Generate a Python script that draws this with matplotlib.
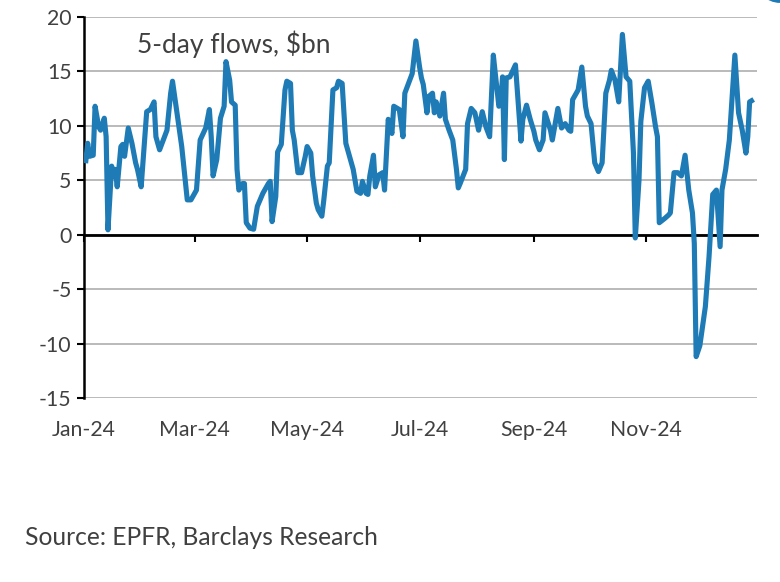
import pandas as pd
import matplotlib
matplotlib.use("Agg")
import matplotlib.pyplot as plt
import matplotlib.dates as mdates
from matplotlib.patches import Ellipse

plt.rcParams['font.family'] = ['Lato', 'DejaVu Sans']
plt.rcParams['axes.unicode_minus'] = False

TEXT = "#404040"
BLUE = "#1F7BB6"

# 5-day flows, $bn
dates = [
    "2024-01-02", "2024-01-03", "2024-01-04", "2024-01-06", "2024-01-07", "2024-01-09",
    "2024-01-10", "2024-01-12", "2024-01-13", "2024-01-14", "2024-01-16", "2024-01-17",
    "2024-01-18", "2024-01-19", "2024-01-21", "2024-01-22", "2024-01-23", "2024-01-25",
    "2024-01-27", "2024-01-29", "2024-01-30", "2024-02-01", "2024-02-04", "2024-02-06",
    "2024-02-08", "2024-02-09", "2024-02-11", "2024-02-15", "2024-02-17", "2024-02-18",
    "2024-02-23", "2024-02-25", "2024-02-26", "2024-02-28", "2024-03-02", "2024-03-04",
    "2024-03-07", "2024-03-09", "2024-03-10", "2024-03-11", "2024-03-13", "2024-03-15",
    "2024-03-17", "2024-03-18", "2024-03-20", "2024-03-21", "2024-03-23", "2024-03-24",
    "2024-03-25", "2024-03-27", "2024-03-28", "2024-03-29", "2024-03-31", "2024-04-02",
    "2024-04-04", "2024-04-07", "2024-04-10", "2024-04-11", "2024-04-12", "2024-04-14",
    "2024-04-15", "2024-04-17", "2024-04-19", "2024-04-20", "2024-04-22", "2024-04-23",
    "2024-04-24", "2024-04-26", "2024-04-28", "2024-04-30", "2024-05-01", "2024-05-03",
    "2024-05-04", "2024-05-06", "2024-05-07", "2024-05-09", "2024-05-10", "2024-05-12",
    "2024-05-13", "2024-05-15", "2024-05-17", "2024-05-18", "2024-05-20", "2024-05-22",
    "2024-05-24", "2024-05-26", "2024-05-28", "2024-05-30", "2024-05-31", "2024-06-02",
    "2024-06-03", "2024-06-04", "2024-06-06", "2024-06-07", "2024-06-09", "2024-06-11",
    "2024-06-12", "2024-06-14", "2024-06-16", "2024-06-17", "2024-06-20", "2024-06-22",
    "2024-06-23", "2024-06-25", "2024-06-27", "2024-06-29", "2024-07-01", "2024-07-02",
    "2024-07-03", "2024-07-05", "2024-07-06", "2024-07-08", "2024-07-09", "2024-07-10",
    "2024-07-12", "2024-07-14", "2024-07-15", "2024-07-17", "2024-07-19", "2024-07-21",
    "2024-07-22", "2024-07-23", "2024-07-26", "2024-07-27", "2024-07-29", "2024-07-31",
    "2024-08-02", "2024-08-04", "2024-08-06", "2024-08-08", "2024-08-10", "2024-08-11",
    "2024-08-13", "2024-08-14", "2024-08-15", "2024-08-16", "2024-08-17", "2024-08-19",
    "2024-08-22", "2024-08-23", "2024-08-25", "2024-08-26", "2024-08-28", "2024-08-30",
    "2024-09-01", "2024-09-02", "2024-09-04", "2024-09-06", "2024-09-07", "2024-09-10",
    "2024-09-11", "2024-09-14", "2024-09-16", "2024-09-18", "2024-09-20", "2024-09-21",
    "2024-09-22", "2024-09-25", "2024-09-27", "2024-09-29", "2024-09-30", "2024-10-02",
    "2024-10-04", "2024-10-06", "2024-10-08", "2024-10-10", "2024-10-12", "2024-10-13",
    "2024-10-15", "2024-10-17", "2024-10-19", "2024-10-21", "2024-10-23", "2024-10-25",
    "2024-10-26", "2024-10-28", "2024-10-29", "2024-10-31", "2024-11-02", "2024-11-04",
    "2024-11-06", "2024-11-07", "2024-11-08", "2024-11-11", "2024-11-13", "2024-11-14",
    "2024-11-16", "2024-11-18", "2024-11-20", "2024-11-22", "2024-11-24", "2024-11-26",
    "2024-11-27", "2024-11-28", "2024-11-30", "2024-12-03", "2024-12-05", "2024-12-07",
    "2024-12-09", "2024-12-11", "2024-12-12", "2024-12-14", "2024-12-16", "2024-12-19",
    "2024-12-21", "2024-12-23", "2024-12-25", "2024-12-26", "2024-12-27", "2024-12-28",
]
flows = [
    6.8, 8.4, 7.2, 7.3, 11.8, 9.9,
    9.6, 10.7, 9.0, 0.45, 6.3, 5.4,
    6.0, 4.4, 8.1, 8.3, 7.2, 9.8,
    8.4, 6.6, 6.0, 4.4, 11.3, 11.5,
    12.2, 9.0, 7.8, 9.6, 13.0, 14.1,
    8.1, 4.8, 3.2, 3.2, 4.1, 8.7,
    9.8, 11.5, 9.0, 5.4, 6.9, 10.7,
    11.8, 15.9, 14.2, 12.2, 11.9, 6.0,
    4.1, 4.7, 4.7, 1.1, 0.6, 0.5,
    2.6, 3.8, 4.7, 4.9, 1.2, 3.5,
    7.6, 8.3, 13.3, 14.1, 13.9, 9.6,
    8.7, 5.7, 5.7, 7.2, 8.1, 7.5,
    5.4, 2.9, 2.3, 1.7, 3.1, 6.3,
    6.6, 13.3, 13.5, 14.1, 13.9, 8.4,
    7.2, 6.0, 4.0, 3.8, 4.9, 3.8,
    3.7, 5.4, 7.3, 4.4, 5.5, 5.7,
    4.1, 10.6, 9.3, 11.8, 11.5, 9.0,
    13.0, 13.9, 14.8, 17.8, 15.4, 14.4,
    13.8, 11.2, 12.7, 13.0, 11.2, 12.2,
    10.9, 13.0, 10.6, 9.6, 8.7, 6.0,
    4.3, 4.7, 6.0, 10.2, 11.6, 11.2,
    9.6, 11.3, 9.9, 9.0, 16.5, 14.9,
    11.8, 12.1, 14.5, 6.9, 14.4, 14.5,
    15.6, 13.3, 8.6, 10.6, 11.9, 10.6,
    9.5, 8.7, 7.8, 8.7, 11.2, 9.6,
    8.7, 11.6, 9.8, 10.2, 9.6, 9.5,
    12.4, 13.3, 15.4, 11.8, 10.9, 10.2,
    6.6, 5.8, 6.6, 13.0, 14.2, 15.1,
    14.2, 12.2, 18.4, 14.5, 14.1, 7.5,
    -0.3, 5.0, 10.4, 13.5, 14.1, 12.1,
    9.9, 9.0, 1.1, 1.5, 1.8, 2.0,
    5.7, 5.7, 5.4, 7.3, 4.1, 2.0,
    -0.8, -11.2, -10.2, -6.6, -2.0, 3.7,
    4.1, -1.1, 4.1, 6.0, 8.7, 16.5,
    11.2, 9.6, 7.5, 9.0, 12.2, 12.3,
]
y_ticks = [-15, -10, -5, 0, 5, 10, 15, 20]


def main():
    x = pd.to_datetime(dates)

    fig = plt.figure(figsize=(7.8, 5.82), dpi=100)
    ax = fig.add_axes([0.1077, 0.3162, 0.8628, 0.6546])

    ax.plot(x, flows, color=BLUE, lw=3.7, solid_joinstyle='round', zorder=3)

    ax.set_xlim(pd.Timestamp("2024-01-01"), pd.Timestamp("2024-12-31"))
    ax.set_ylim(-15, 20)
    ax.set_yticks(y_ticks)
    ax.yaxis.grid(True, color="#b4b4b4", lw=1.3)
    ax.set_axisbelow(True)

    locator = mdates.MonthLocator(bymonth=[1, 3, 5, 7, 9, 11])
    ax.xaxis.set_major_locator(locator)
    ax.xaxis.set_major_formatter(mdates.DateFormatter('%b-%y'))
    ax.tick_params(axis='x', length=0, pad=16, labelsize=15.3, labelcolor=TEXT)
    ax.tick_params(axis='y', length=5, width=1.5, pad=4, labelsize=15.3,
                   labelcolor=TEXT, color='black')

    for s in ['top', 'right', 'bottom']:
        ax.spines[s].set_visible(False)
    ax.spines['left'].set_linewidth(1.8)
    ax.spines['left'].set_color('black')

    # horizontal axis line crossing at zero, with its own ticks
    sec = ax.secondary_xaxis(0, transform=ax.transData)
    sec.set_zorder(1)
    sec.xaxis.set_major_locator(locator)
    sec.xaxis.set_major_formatter(plt.NullFormatter())
    sec.tick_params(axis='x', length=5, width=1.5, color='black')
    sec.spines['bottom'].set_linewidth(2)
    sec.spines['bottom'].set_color('black')

    ax.text(0.079, 0.928, "5-day flows, $bn", transform=ax.transAxes,
            fontsize=19, color=TEXT, va='center', ha='left')

    fig.text(0.032, 0.077, "Source: EPFR, Barclays Research",
             fontsize=17.7, color=TEXT, va='center', ha='left')

    # logo fragment at the top-right corner
    fig.patches.append(Ellipse((1.0, 1.04), 0.065, 0.09, transform=fig.transFigure,
                               facecolor=BLUE, edgecolor='none', zorder=5))

    fig.savefig("out.png", dpi=100)


if __name__ == "__main__":
    main()
